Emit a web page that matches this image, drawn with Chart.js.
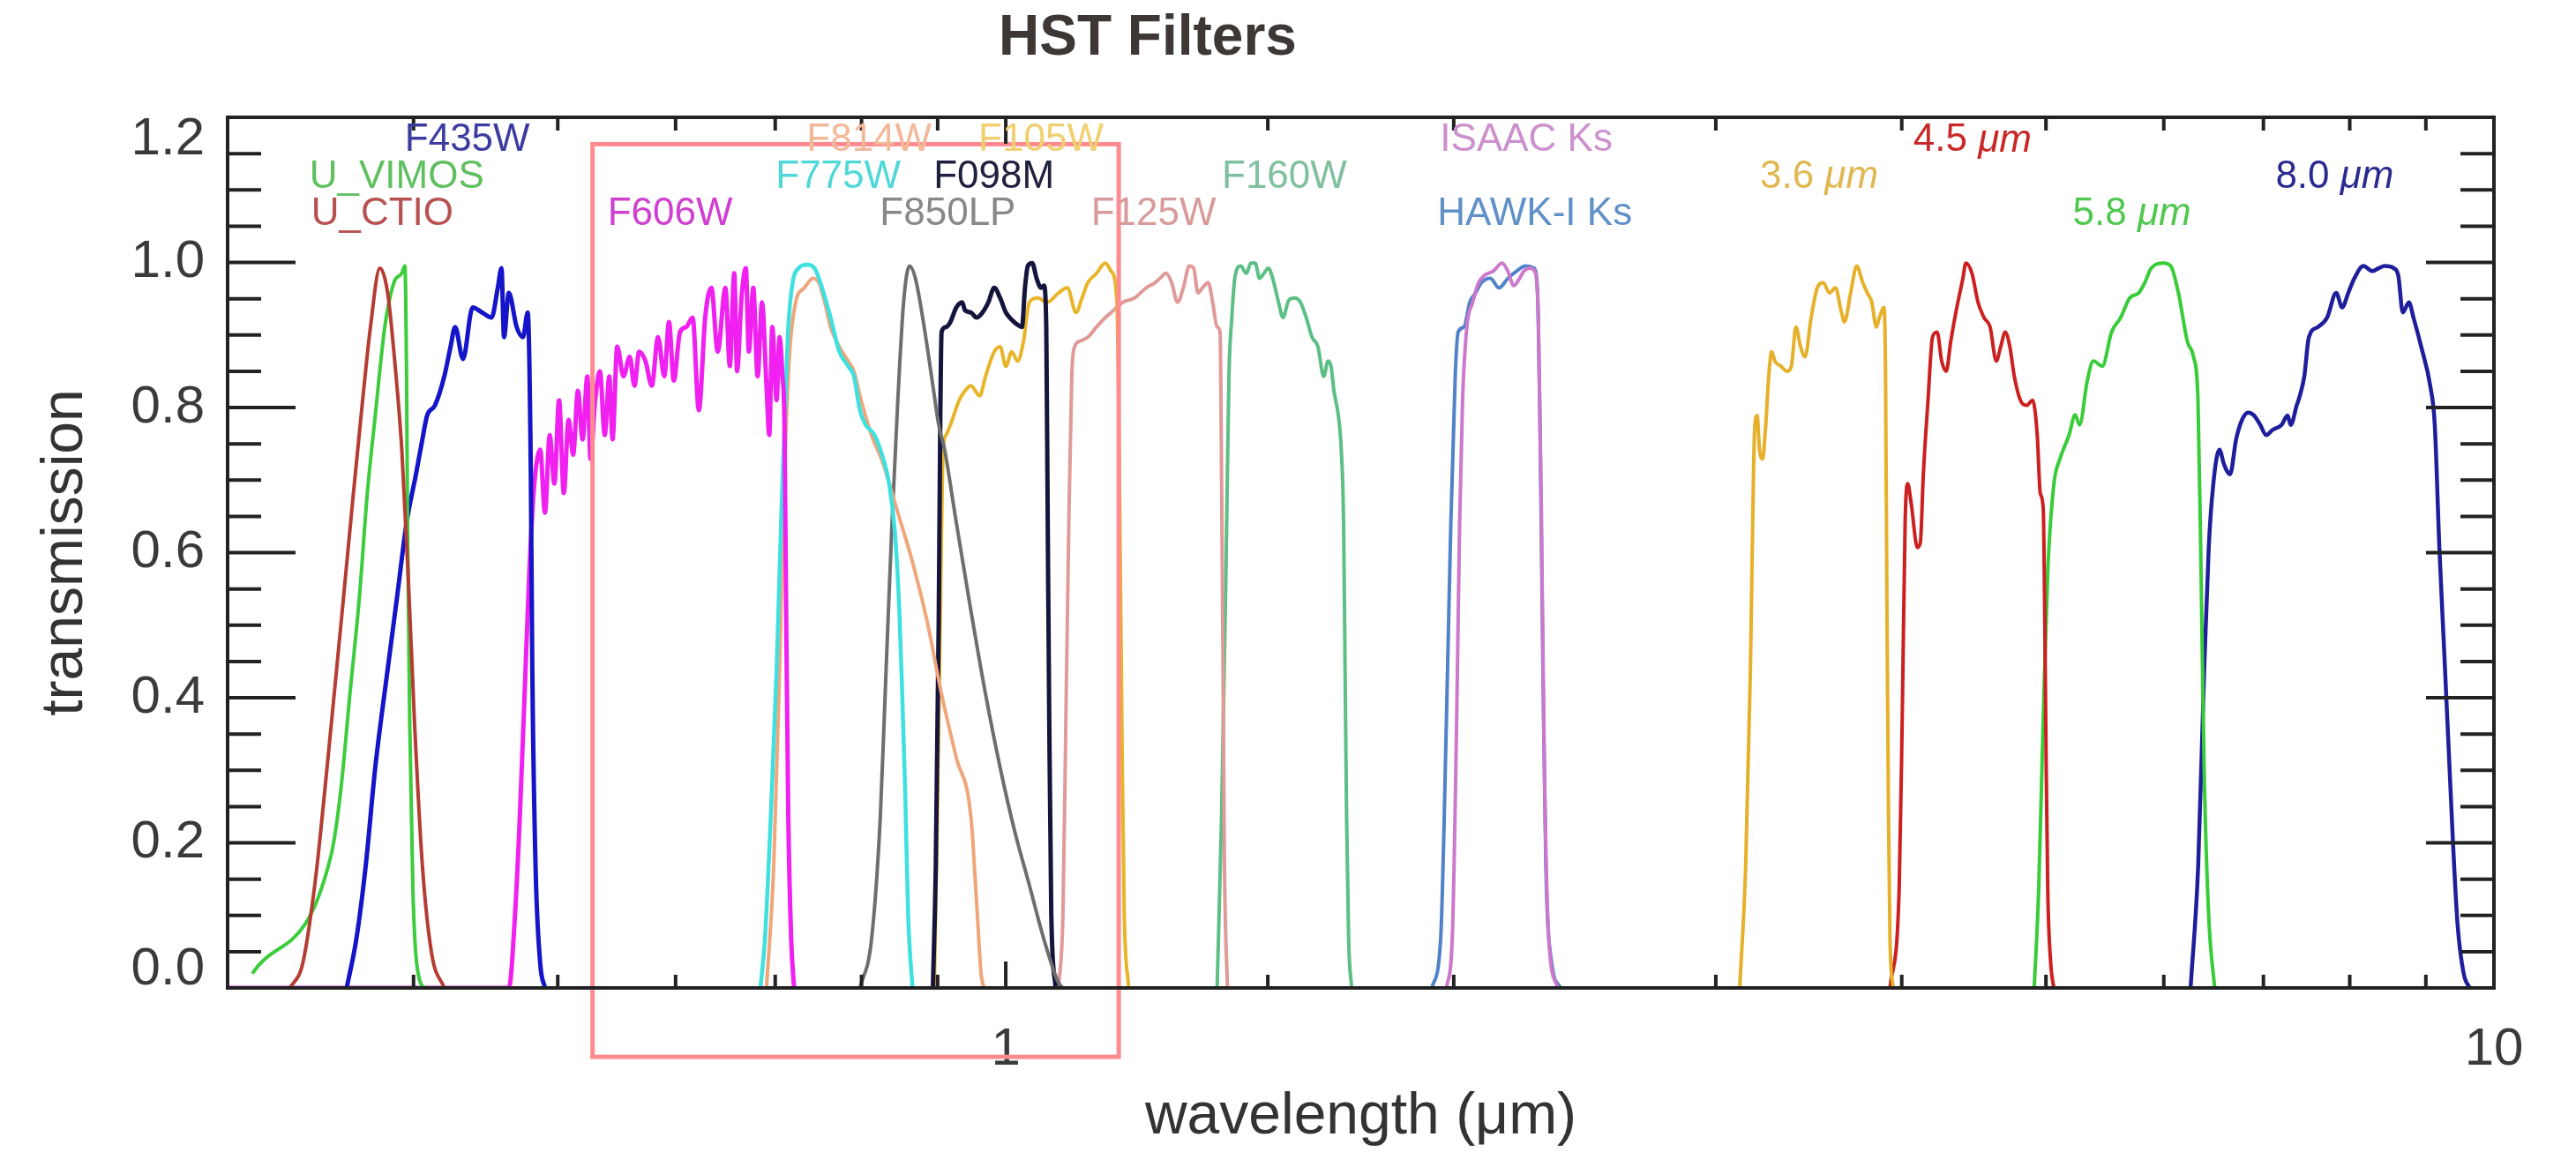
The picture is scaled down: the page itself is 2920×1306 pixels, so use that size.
<!DOCTYPE html>
<html><head><meta charset="utf-8">
<script src="https://cdn.jsdelivr.net/npm/chart.js@4.4.1/dist/chart.umd.min.js"></script>
<style>html,body{margin:0;padding:0;background:#fff;}#wrap{width:2920px;height:1306px;}</style>
</head><body><div id="wrap"><canvas id="c" width="2920" height="1306" style="width:2920px;height:1306px"></canvas></div>
<script>
// ---- data: [wavelength (micron), transmission] ----
const U_CTIO = [[0.3305,0],[0.337,0.034],[0.3436,0.148],[0.3486,0.27],[0.3538,0.405],[0.359,0.54],[0.3642,0.675],[0.3697,0.81],[0.3742,0.911],[0.3797,0.992],[0.3843,0.958],[0.388,0.877],[0.3928,0.742],[0.3966,0.574],[0.4005,0.371],[0.4055,0.169],[0.4114,0.047],[0.4195,0]];
const U_VIMOS = [[0.3117,0.02],[0.352,0.182],[0.3573,0.27],[0.3625,0.405],[0.3679,0.54],[0.3724,0.682],[0.377,0.789],[0.3826,0.911],[0.388,0.972],[0.3928,0.985],[0.3947,0.995],[0.3957,0.843],[0.3963,0.641],[0.3976,0.371],[0.3996,0.135],[0.4035,0.013],[0.4075,0]];
const F435W = [[0.3607,0],[0.3661,0.067],[0.3715,0.169],[0.377,0.304],[0.3843,0.439],[0.39,0.54],[0.3957,0.641],[0.4015,0.708],[0.4055,0.756],[0.4085,0.789],[0.4135,0.803],[0.4195,0.843],[0.4236,0.884],[0.4266,0.911],[0.4318,0.867],[0.4383,0.938],[0.4447,0.931],[0.4513,0.924],[0.4557,0.965],[0.4583,0.992],[0.4601,0.897],[0.4635,0.958],[0.4692,0.911],[0.4738,0.897],[0.4773,0.931],[0.4796,0.708],[0.4807,0.439],[0.4831,0.169],[0.4866,0.034],[0.4902,0]];
const F606W = [[0.3,0],[0.4636,0],[0.468,0.101],[0.4715,0.236],[0.475,0.405],[0.4785,0.574],[0.4819,0.688],[0.4866,0.742],[0.4902,0.655],[0.4938,0.762],[0.4974,0.695],[0.501,0.81],[0.5047,0.682],[0.5084,0.783],[0.5121,0.735],[0.5158,0.823],[0.5196,0.756],[0.5234,0.843],[0.526,0.729],[0.5298,0.81],[0.5337,0.85],[0.5377,0.762],[0.5415,0.843],[0.5442,0.756],[0.5482,0.884],[0.5535,0.843],[0.5589,0.87],[0.563,0.83],[0.5671,0.877],[0.5727,0.864],[0.5783,0.83],[0.5839,0.897],[0.5896,0.843],[0.5939,0.918],[0.5983,0.837],[0.6041,0.904],[0.61,0.911],[0.616,0.924],[0.622,0.796],[0.6281,0.924],[0.6342,0.965],[0.6404,0.877],[0.6481,0.965],[0.6525,0.857],[0.657,0.985],[0.6599,0.85],[0.6644,0.951],[0.6689,0.992],[0.672,0.877],[0.6766,0.965],[0.6812,0.843],[0.6858,0.945],[0.6906,0.83],[0.6936,0.762],[0.6968,0.911],[0.7015,0.81],[0.7047,0.897],[0.7079,0.843],[0.7101,0.776],[0.712,0.506],[0.7143,0.236],[0.7175,0.067],[0.7207,0]];
const F775W = [[0.6842,0],[0.6889,0.067],[0.6952,0.236],[0.7015,0.439],[0.7063,0.641],[0.7101,0.776],[0.7143,0.911],[0.7191,0.972],[0.7257,0.992],[0.7356,0.997],[0.7439,0.992],[0.749,0.978],[0.7626,0.924],[0.773,0.877],[0.7836,0.857],[0.7907,0.843],[0.798,0.796],[0.8052,0.776],[0.8162,0.762],[0.8274,0.729],[0.8349,0.695],[0.8424,0.628],[0.8482,0.52],[0.852,0.405],[0.8559,0.27],[0.8598,0.101],[0.8656,0]];
const F814W = [[0.6906,0],[0.6984,0.169],[0.7047,0.439],[0.7101,0.708],[0.7159,0.877],[0.7225,0.945],[0.7324,0.965],[0.7424,0.978],[0.749,0.972],[0.7557,0.945],[0.7626,0.911],[0.7695,0.891],[0.7765,0.877],[0.7836,0.864],[0.7907,0.85],[0.798,0.816],[0.8125,0.762],[0.8274,0.722],[0.8462,0.655],[0.8656,0.587],[0.8853,0.506],[0.9055,0.405],[0.9264,0.317],[0.9475,0.236],[0.9561,0.115],[0.9625,0.02],[0.9669,0]];
const F850LP = [[0.798,0],[0.8125,0.067],[0.8236,0.236],[0.831,0.439],[0.8386,0.641],[0.8462,0.81],[0.8538,0.945],[0.8616,0.995],[0.8695,0.978],[0.8814,0.911],[0.8934,0.83],[0.9015,0.776],[0.9097,0.742],[0.9264,0.641],[0.9475,0.52],[0.9692,0.405],[0.9913,0.304],[1.0139,0.216],[1.0371,0.142],[1.0608,0.067],[1.0851,0.007],[1.0925,0]];
const F098M = [[0.8934,0],[0.8974,0.169],[0.9015,0.506],[0.9036,0.776],[0.9055,0.904],[0.9118,0.911],[0.9179,0.918],[0.9264,0.938],[0.9348,0.945],[0.9389,0.934],[0.9475,0.931],[0.9561,0.924],[0.9647,0.931],[0.9734,0.945],[0.9824,0.965],[0.9913,0.951],[1.0002,0.931],[1.0093,0.921],[1.0186,0.914],[1.0254,0.911],[1.0302,0.965],[1.0347,0.995],[1.0418,0.999],[1.0489,0.978],[1.0561,0.965],[1.0608,0.968],[1.0647,0.911],[1.0671,0.641],[1.0696,0.371],[1.073,0.101],[1.0802,0]];
const F105W = [[0.8954,0],[0.8995,0.236],[0.9036,0.506],[0.9077,0.742],[0.9118,0.762],[0.9179,0.776],[0.9305,0.81],[0.9389,0.823],[0.9475,0.83],[0.9605,0.816],[0.9692,0.843],[0.9824,0.877],[0.9913,0.884],[1.0002,0.857],[1.0093,0.877],[1.0186,0.864],[1.0278,0.891],[1.0371,0.945],[1.0512,0.951],[1.0656,0.945],[1.0851,0.958],[1.1,0.965],[1.1149,0.931],[1.1252,0.951],[1.1353,0.972],[1.1508,0.985],[1.1665,0.999],[1.1771,0.988],[1.1877,0.945],[1.1932,0.641],[1.1976,0.304],[1.2013,0.101],[1.2095,0]];
const F125W = [[1.0851,0],[1.0925,0.101],[1.0975,0.371],[1.1025,0.641],[1.1075,0.843],[1.1126,0.884],[1.1201,0.891],[1.1353,0.897],[1.1508,0.911],[1.1665,0.924],[1.1771,0.931],[1.1986,0.945],[1.2205,0.951],[1.2427,0.965],[1.2597,0.972],[1.2695,0.978],[1.2811,0.985],[1.2927,0.972],[1.3044,0.945],[1.3162,0.965],[1.3284,0.995],[1.3374,0.992],[1.3464,0.958],[1.3557,0.965],[1.368,0.972],[1.3774,0.945],[1.3868,0.911],[1.3932,0.904],[1.3964,0.708],[1.3996,0.439],[1.4027,0.169],[1.4092,0]];
const F160W = [[1.3868,0],[1.3964,0.236],[1.406,0.574],[1.4124,0.843],[1.4188,0.924],[1.4252,0.978],[1.4382,0.995],[1.4512,0.985],[1.4611,0.999],[1.471,0.999],[1.481,0.978],[1.491,0.985],[1.5012,0.992],[1.5114,0.978],[1.5251,0.945],[1.5356,0.924],[1.5495,0.948],[1.5636,0.951],[1.5776,0.945],[1.5919,0.924],[1.6063,0.897],[1.6209,0.884],[1.6355,0.843],[1.6466,0.864],[1.6541,0.857],[1.6616,0.823],[1.6729,0.789],[1.6805,0.742],[1.6866,0.641],[1.6905,0.439],[1.6944,0.236],[1.6998,0.067],[1.7076,0]];
const ISAAC_Ks = [[1.9776,0],[1.9953,0.067],[2.0091,0.371],[2.0183,0.641],[2.0275,0.81],[2.0409,0.911],[2.0594,0.945],[2.0783,0.972],[2.0972,0.982],[2.1261,0.988],[2.1553,0.999],[2.1746,0.988],[2.1944,0.968],[2.2143,0.978],[2.2293,0.988],[2.25,0.992],[2.2701,0.985],[2.2803,0.911],[2.2908,0.641],[2.301,0.304],[2.317,0.067],[2.3484,0]];
const HAWKI_Ks = [[1.9334,0],[1.9598,0.067],[1.9776,0.371],[1.991,0.641],[2.0045,0.843],[2.0137,0.904],[2.0319,0.911],[2.0503,0.945],[2.069,0.958],[2.0877,0.972],[2.1163,0.978],[2.1452,0.965],[2.1746,0.978],[2.2043,0.988],[2.2344,0.995],[2.265,0.992],[2.2783,0.945],[2.2856,0.776],[2.296,0.439],[2.3063,0.169],[2.3274,0.034],[2.359,0]];
const IRAC_36 = [[3.113,0],[3.142,0.169],[3.165,0.439],[3.18,0.708],[3.187,0.776],[3.198,0.789],[3.21,0.742],[3.225,0.729],[3.241,0.776],[3.256,0.843],[3.271,0.877],[3.287,0.864],[3.318,0.857],[3.349,0.85],[3.372,0.857],[3.396,0.911],[3.42,0.884],[3.444,0.87],[3.477,0.924],[3.51,0.965],[3.543,0.972],[3.576,0.958],[3.61,0.965],[3.644,0.931],[3.661,0.918],[3.696,0.958],[3.731,0.995],[3.766,0.972],[3.792,0.958],[3.819,0.945],[3.846,0.911],[3.864,0.924],[3.892,0.938],[3.901,0.843],[3.91,0.506],[3.919,0.236],[3.928,0.067],[3.947,0]];
const IRAC_45 = [[3.928,0],[3.984,0.135],[4.003,0.371],[4.021,0.641],[4.037,0.695],[4.059,0.668],[4.098,0.607],[4.117,0.614],[4.136,0.708],[4.166,0.81],[4.195,0.897],[4.225,0.904],[4.255,0.864],[4.285,0.85],[4.315,0.891],[4.356,0.938],[4.397,0.978],[4.417,0.999],[4.459,0.985],[4.501,0.945],[4.543,0.924],[4.586,0.911],[4.63,0.864],[4.662,0.884],[4.695,0.904],[4.728,0.884],[4.761,0.843],[4.806,0.81],[4.852,0.803],[4.898,0.81],[4.933,0.762],[4.956,0.682],[4.979,0.661],[4.991,0.506],[5.002,0.304],[5.014,0.135],[5.037,0.034],[5.061,0]];
const IRAC_58 = [[4.91,0],[4.944,0.135],[4.979,0.371],[5.014,0.574],[5.062,0.695],[5.109,0.729],[5.182,0.762],[5.231,0.79],[5.267,0.776],[5.33,0.837],[5.38,0.864],[5.456,0.857],[5.534,0.904],[5.613,0.924],[5.692,0.951],[5.772,0.958],[5.826,0.972],[5.884,0.992],[5.995,0.999],[6.065,0.995],[6.137,0.958],[6.223,0.891],[6.282,0.87],[6.326,0.81],[6.356,0.574],[6.386,0.304],[6.431,0.101],[6.491,0]];
const IRAC_80 = [[6.254,0],[6.328,0.169],[6.387,0.439],[6.432,0.607],[6.478,0.695],[6.539,0.742],[6.585,0.722],[6.648,0.708],[6.71,0.756],[6.772,0.783],[6.836,0.793],[6.9,0.789],[6.966,0.776],[7.031,0.762],[7.098,0.769],[7.199,0.776],[7.267,0.789],[7.302,0.776],[7.37,0.803],[7.405,0.816],[7.457,0.843],[7.51,0.897],[7.617,0.911],[7.725,0.924],[7.834,0.958],[7.907,0.938],[7.982,0.958],[8.057,0.978],[8.171,0.995],[8.286,0.988],[8.365,0.992],[8.444,0.995],[8.564,0.992],[8.624,0.982],[8.685,0.931],[8.767,0.945],[8.829,0.924],[8.935,0.884],[9.061,0.83],[9.125,0.776],[9.19,0.607],[9.255,0.472],[9.32,0.337],[9.385,0.202],[9.452,0.088],[9.542,0.02],[9.632,0]];

const filterNames = ['U_CTIO','U_VIMOS','F435W','F606W','F775W','F814W','F850LP','F098M','F105W','F125W','F160W','ISAAC Ks','HAWK-I Ks','3.6 μm','4.5 μm','5.8 μm','8.0 μm'];
const filterData  = [U_CTIO,U_VIMOS,F435W,F606W,F775W,F814W,F850LP,F098M,F105W,F125W,F160W,ISAAC_Ks,HAWKI_Ks,IRAC_36,IRAC_45,IRAC_58,IRAC_80];
const lineColors  = ['#b43c32','#3ccc3c','#1414c8','#f020f0','#3ee0e0','#f0a57a','#6e6e6e','#14143c','#e8b428','#e09a98','#5cbf85','#cc78cc','#4f82c8','#e6b02a','#cc2020','#38cc38','#1e1e9c'];
const labelColors = ['#b85050','#60c060','#3c3ca0','#d040d0','#50d8d8','#f2b898','#888888','#202040','#f0d070','#d89a9a','#80c0a0','#cc90cc','#6090c8','#e0b850','#c82828','#50c850','#2a2a90'];
// label anchor: left edge wavelength, vertical centre transmission
const labelX = [0.3414,0.3405,0.3946,0.5400,0.7005,0.7348,0.8230,0.8943,0.9586,1.141,1.397,1.958,1.950,3.212,4.072,5.212,7.132];
const labelY = [1.067,1.118,1.168,1.067,1.118,1.168,1.067,1.118,1.168,1.067,1.118,1.168,1.067,1.118,1.168,1.067,1.118];
// highlighted wavelength/transmission window: [xMin, xMax, yMin, yMax]
const highlightBox = [0.5276, 1.191, -0.095, 1.163];
const xRange = [0.3, 10];
const yRange = [0, 1.2];
const yMajorStep = 0.2, yMinorStep = 0.05;

const isDecade = v => Math.abs(Math.log10(v) - Math.round(Math.log10(v))) < 1e-6;
const isMajorY = v => Math.abs(v / yMajorStep - Math.round(v / yMajorStep)) < 1e-6;
const FONT = '"Liberation Sans", Arial, Helvetica, sans-serif';

const framePlugin = {
  id: 'frame',
  afterDraw(chart) {
    const {ctx, chartArea: a, scales: {x, y}} = chart;
    ctx.save();
    // highlight box
    const bx0 = x.getPixelForValue(highlightBox[0]), bx1 = x.getPixelForValue(highlightBox[1]);
    const by0 = y.getPixelForValue(highlightBox[3]), by1 = y.getPixelForValue(highlightBox[2]);
    ctx.strokeStyle = '#ff8a8f'; ctx.lineWidth = 5;
    ctx.strokeRect(bx0, by0, bx1 - bx0, by1 - by0);
    // inside ticks
    ctx.strokeStyle = '#222'; ctx.lineWidth = 4; ctx.lineCap = 'butt';
    ctx.beginPath();
    y.ticks.forEach(t => {
      const py = y.getPixelForValue(t.value);
      const L = isMajorY(t.value) ? 77 : 38;
      ctx.moveTo(a.left, py); ctx.lineTo(a.left + L, py);
      ctx.moveTo(a.right, py); ctx.lineTo(a.right - L, py);
    });
    x.ticks.forEach(t => {
      const px = x.getPixelForValue(t.value);
      const L = isDecade(t.value) ? 30 : 15;
      ctx.moveTo(px, a.bottom); ctx.lineTo(px, a.bottom - L);
      ctx.moveTo(px, a.top); ctx.lineTo(px, a.top + L);
    });
    ctx.stroke();
    ctx.strokeRect(a.left, a.top, a.right - a.left, a.bottom - a.top);
    // y tick labels (end labels kept inside the frame, as in the original)
    ctx.font = '60px ' + FONT; ctx.fillStyle = '#3a3a3a';
    ctx.textAlign = 'right'; ctx.textBaseline = 'middle';
    y.ticks.forEach(t => {
      if (!isMajorY(t.value)) return;
      const py = Math.min(Math.max(y.getPixelForValue(t.value), a.top + 25), a.bottom - 21);
      ctx.fillText(t.value.toFixed(1), a.left - 26, py);
    });
    // filter labels
    ctx.textBaseline = 'middle'; ctx.textAlign = 'left';
    filterNames.forEach((name, i) => {
      let px = x.getPixelForValue(labelX[i]);
      const py = y.getPixelForValue(labelY[i]);
      ctx.fillStyle = labelColors[i];
      if (name.includes('μm')) {
        const pre = name.replace('μm', '');
        ctx.font = '44px ' + FONT;
        ctx.fillText(pre, px, py);
        px += ctx.measureText(pre).width;
        ctx.font = 'italic 44px ' + FONT;
        ctx.fillText('μm', px, py);
      } else {
        ctx.font = '44px ' + FONT;
        ctx.fillText(name, px, py);
      }
    });
    // title
    ctx.font = 'bold 64px ' + FONT;
    ctx.fillStyle = '#3d3835';
    ctx.textAlign = 'center'; ctx.textBaseline = 'alphabetic';
    ctx.fillText('HST Filters', 1301, 62);
    ctx.restore();
  }
};

const widths = [4,4,5,5,4.5,4,4,5,4,4,4,4,4,4,4,4,4.5];

new Chart(document.getElementById('c').getContext('2d'), {
  type: 'line',
  data: {
    datasets: filterNames.map((n, i) => ({
      label: n,
      data: filterData[i].map(p => ({x: p[0], y: p[1]})),
      borderColor: lineColors[i],
      borderWidth: widths[i],
      pointRadius: 0,
      fill: false,
      cubicInterpolationMode: 'monotone'
    }))
  },
  options: {
    responsive: false,
    animation: false,
    layout: {padding: {top: 133, right: 93, left: 0, bottom: 0}},
    plugins: {legend: {display: false}, tooltip: {enabled: false}, title: {display: false}},
    scales: {
      x: {
        type: 'logarithmic', min: xRange[0], max: xRange[1],
        grid: {display: false, drawTicks: false}, border: {display: false},
        ticks: {autoSkip: false, maxRotation: 0, minRotation: 0, padding: 34, color: '#3a3a3a',
                font: {size: 60, family: FONT},
                callback: v => isDecade(v) ? String(Math.round(v)) : ''},
        title: {display: true, text: 'wavelength (μm)', color: '#333', font: {size: 66, family: FONT}, padding: {top: 0, bottom: 0}},
        afterFit: s => { s.height = 186; }
      },
      y: {
        min: yRange[0], max: yRange[1],
        grid: {display: false, drawTicks: false}, border: {display: false},
        ticks: {stepSize: yMinorStep, autoSkip: false, padding: 26, font: {size: 60, family: FONT},
                callback: () => ''},
        title: {display: true, text: 'transmission', color: '#333', font: {size: 66, family: FONT}, padding: {top: 35, bottom: 0}},
        afterFit: s => { s.width = 258; }
      }
    }
  },
  plugins: [framePlugin]
});
</script></body></html>
